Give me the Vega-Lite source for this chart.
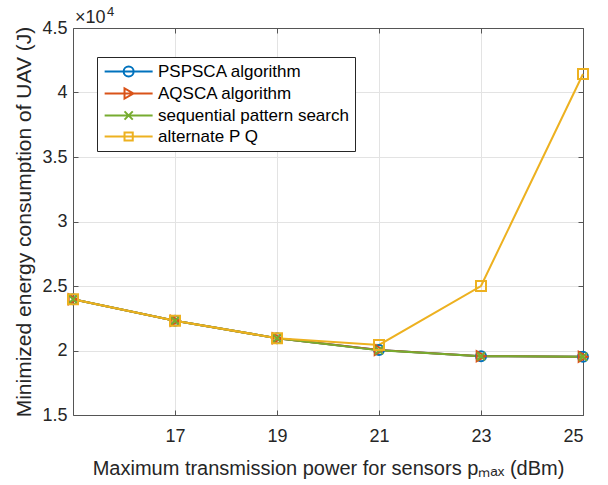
{
  "$schema": "https://vega.github.io/schema/vega-lite/v6.json",
  "width": 510,
  "height": 387,
  "autosize": "none",
  "padding": {"left": 73, "top": 28, "right": 25, "bottom": 70},
  "background": "white",
  "config": {"view": {"stroke": null}, "font": "Liberation Sans"},
  "data": {
    "values": [
      {"p": 15, "series": "PSPSCA algorithm", "energy": 23970},
      {"p": 17, "series": "PSPSCA algorithm", "energy": 22310},
      {"p": 19, "series": "PSPSCA algorithm", "energy": 20950},
      {"p": 21, "series": "PSPSCA algorithm", "energy": 20040},
      {"p": 23, "series": "PSPSCA algorithm", "energy": 19560},
      {"p": 25, "series": "PSPSCA algorithm", "energy": 19510},
      {"p": 15, "series": "AQSCA algorithm", "energy": 23970},
      {"p": 17, "series": "AQSCA algorithm", "energy": 22310},
      {"p": 19, "series": "AQSCA algorithm", "energy": 20950},
      {"p": 21, "series": "AQSCA algorithm", "energy": 20040},
      {"p": 23, "series": "AQSCA algorithm", "energy": 19560},
      {"p": 25, "series": "AQSCA algorithm", "energy": 19510},
      {"p": 15, "series": "sequential pattern search", "energy": 23970},
      {"p": 17, "series": "sequential pattern search", "energy": 22310},
      {"p": 19, "series": "sequential pattern search", "energy": 20950},
      {"p": 21, "series": "sequential pattern search", "energy": 20010},
      {"p": 23, "series": "sequential pattern search", "energy": 19560},
      {"p": 25, "series": "sequential pattern search", "energy": 19510},
      {"p": 15, "series": "alternate P Q", "energy": 23970},
      {"p": 17, "series": "alternate P Q", "energy": 22310},
      {"p": 19, "series": "alternate P Q", "energy": 20950},
      {"p": 21, "series": "alternate P Q", "energy": 20430},
      {"p": 23, "series": "alternate P Q", "energy": 25000},
      {"p": 25, "series": "alternate P Q", "energy": 41430}
    ]
  },
  "layer": [
    {
      "mark": {"type": "line", "strokeWidth": 2},
      "encoding": {
        "x": {"field": "p", "type": "quantitative",
          "scale": {"domain": [15, 25], "nice": false, "zero": false},
          "axis": {"orient": "bottom", "values": [17, 19, 21, 23, 25], "title": "Maximum transmission power for sensors pₘₐₓ (dBm)",
            "titleFontSize": 20, "titleFontWeight": "normal", "titleColor": "#262626", "titlePadding": 13,
            "labelFontSize": 18, "labelColor": "#262626", "labelPadding": 17, "tickSize": -5, "tickColor": "#555555",
            "domainColor": "#555555", "grid": true, "gridColor": "#e3e3e3", "labelFont": "Liberation Sans", "titleFont": "Liberation Sans"}},
        "y": {"field": "energy", "type": "quantitative",
          "scale": {"domain": [15000, 45000], "nice": false, "zero": false},
          "axis": {"orient": "left", "values": [15000, 20000, 25000, 30000, 35000, 40000, 45000], "labelExpr": "datum.value / 10000 + ''",
            "title": "Minimized energy consumption of UAV (J)",
            "titleFontSize": 21, "titleFontWeight": "normal", "titleColor": "#262626", "titlePadding": 7,
            "labelFontSize": 18, "labelColor": "#262626", "labelPadding": 11, "tickSize": -5, "tickColor": "#555555",
            "domainColor": "#555555", "grid": true, "gridColor": "#e3e3e3", "labelFont": "Liberation Sans", "titleFont": "Liberation Sans"}},
        "color": {"field": "series", "type": "nominal",
          "scale": {"domain": ["PSPSCA algorithm", "AQSCA algorithm", "sequential pattern search", "alternate P Q"],
            "range": ["#0072BD", "#D95319", "#77AC30", "#EDB120"]},
          "legend": {"title": null, "orient": "none", "legendX": 24, "legendY": 29,
            "strokeColor": "#262626", "fillColor": "white", "padding": 6, "rowPadding": 3,
            "labelFontSize": 17, "labelColor": "#000000", "labelFont": "Liberation Sans", "labelOffset": 38, "labelLimit": 400,
            "symbolSize": 188, "symbolStrokeWidth": 2,
            "encode": {"symbols": {"update": {
              "shape": {"signal": "datum.value === 'PSPSCA algorithm' ? 'M-1,0H6M3.23,0A0.73,0.73 0 1,1 1.77,0A0.73,0.73 0 1,1 3.23,0' : datum.value === 'AQSCA algorithm' ? 'M-1,0H6M1.9,-0.73L3.2,0L1.9,0.73Z' : datum.value === 'sequential pattern search' ? 'M-1,0H6M1.9,-0.6L3.1,0.6M1.9,0.6L3.1,-0.6' : 'M-1,0H6M1.9,-0.6H3.1V0.6H1.9Z'"},
              "fill": {"value": "transparent"},
              "strokeWidth": {"value": 2}
            }}}
          }}
      }
    },
    {
      "mark": {"type": "point", "filled": false, "size": 100, "strokeWidth": 2, "opacity": 1},
      "encoding": {
        "x": {"field": "p", "type": "quantitative",
          "scale": {"domain": [15, 25], "nice": false, "zero": false},
          "axis": {"orient": "top", "values": [17, 19, 21, 23, 25], "labels": false, "title": null, "grid": false,
            "tickSize": -5, "tickColor": "#555555", "domainColor": "#555555"}},
        "y": {"field": "energy", "type": "quantitative",
          "scale": {"domain": [15000, 45000], "nice": false, "zero": false},
          "axis": {"orient": "right", "values": [15000, 20000, 25000, 30000, 35000, 40000, 45000], "labels": false, "title": null, "grid": false,
            "tickSize": -5, "tickColor": "#555555", "domainColor": "#555555"}},
        "color": {"field": "series", "type": "nominal",
          "scale": {"domain": ["PSPSCA algorithm", "AQSCA algorithm", "sequential pattern search", "alternate P Q"],
            "range": ["#0072BD", "#D95319", "#77AC30", "#EDB120"]}},
        "shape": {"condition": [
            {"test": "datum.series === 'AQSCA algorithm'", "value": "triangle-right"},
            {"test": "datum.series === 'sequential pattern search'", "value": "M-0.8,-0.8L0.8,0.8M-0.8,0.8L0.8,-0.8"},
            {"test": "datum.series === 'alternate P Q'", "value": "square"}
          ], "value": "circle"}
      }
    },
    {
      "data": {"values": [{"label": "×10"}]},
      "mark": {"type": "text", "align": "left", "baseline": "alphabetic", "dx": 2, "dy": -5, "fontSize": 18, "color": "#262626", "font": "Liberation Sans"},
      "encoding": {
        "x": {"datum": 15, "type": "quantitative", "axis": null},
        "y": {"datum": 45000, "type": "quantitative", "axis": null},
        "text": {"field": "label", "type": "nominal"}
      }
    },
    {
      "data": {"values": [{"label": "4"}]},
      "mark": {"type": "text", "align": "left", "baseline": "alphabetic", "dx": 34, "dy": -12, "fontSize": 13, "color": "#262626", "font": "Liberation Sans"},
      "encoding": {
        "x": {"datum": 15, "type": "quantitative", "axis": null},
        "y": {"datum": 45000, "type": "quantitative", "axis": null},
        "text": {"field": "label", "type": "nominal"}
      }
    }
  ],
  "resolve": {"axis": {"x": "independent", "y": "independent"}}
}
